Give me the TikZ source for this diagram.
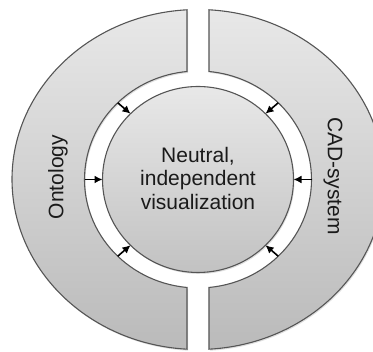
\documentclass[tikz,border=0pt]{standalone}
\usepackage{fontspec}
\setmainfont{Liberation Sans}
\usetikzlibrary{arrows.meta,shadows}
\definecolor{edgegray}{HTML}{555555}
\definecolor{txt}{HTML}{1A1A1A}
\tikzset{
  piece/.style={draw=edgegray, line width=1.1pt, top color=black!9, bottom color=black!27,
    drop shadow={opacity=0.25, shadow xshift=1pt, shadow yshift=-1.5pt}},
  core/.style={draw=edgegray, line width=1.1pt, top color=black!9, bottom color=black!24,
    drop shadow={opacity=0.25, shadow xshift=1pt, shadow yshift=-1.5pt}},
  flow/.style={draw=black, line width=1.6pt, -{Latex[length=8pt,width=8pt]}},
  lbl/.style={text=txt, font=\fontsize{21}{23.5}\selectfont, inner sep=0pt},
}
\begin{document}
\begin{tikzpicture}[x=1pt,y=1pt]
\useasboundingbox (0,0) rectangle (373,352);
\clip (0,0) rectangle (373,352);
\begin{scope}[shift={(198,172.5)}]
  % left piece
  \path[piece] (93.39:186 and 170) arc[start angle=93.39, end angle=266.61, x radius=186, y radius=170]
     -- (264.44:113.5 and 108.5) arc[start angle=264.44, end angle=95.56, x radius=113.5, y radius=108.5] -- cycle;
  % right piece
  \path[piece] (86.61:186 and 170) arc[start angle=86.61, end angle=-86.61, x radius=186, y radius=170]
     -- (-84.44:113.5 and 108.5) arc[start angle=-84.44, end angle=84.44, x radius=113.5, y radius=108.5] -- cycle;
  % inner circle
  \path[core] (0,0) ellipse[x radius=95.5, y radius=93];
  \node[lbl, align=center] (center) at (0,1) {Neutral,\\independent\\visualization};
  % arrow end points
  \foreach \a in {0,45,135,180,225,315}{
    \coordinate (s\a) at (\a:113.5 and 108.5);
    \coordinate (e\a) at (\a:95.5 and 93);
    \draw[flow] (s\a) -- (e\a);
  }
\end{scope}
\node[lbl, rotate=90] (onto) at (58,175) {Ontology};
\node[lbl, rotate=-90] (cad) at (333,176) {CAD-system};
\end{tikzpicture}
\end{document}
